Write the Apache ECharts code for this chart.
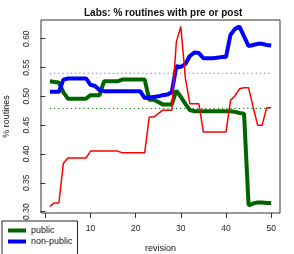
<!DOCTYPE html>
<html>
<head>
<meta charset="utf-8">
<script src="https://cdn.jsdelivr.net/npm/echarts@6/dist/echarts.min.js"></script>
<style>
html,body{margin:0;padding:0;background:#fff;}
#chart{width:294px;height:254px;}
</style>
</head>
<body>
<div id="chart"></div>
<script>
// revisions 1..50
var revisions = [1,2,3,4,5,6,7,8,9,10,11,12,13,14,15,16,17,18,19,20,21,22,23,24,25,26,27,28,29,30,31,32,33,34,35,36,37,38,39,40,41,42,43,44,45,46,47,48,49,50];
var publicVals = [0.526,0.525,0.524,0.507,0.496,0.496,0.496,0.496,0.496,0.502,
                  0.502,0.502,0.526,0.526,0.526,0.526,0.529,0.529,0.529,0.529,
                  0.529,0.529,0.494,0.494,0.490,0.486,0.486,0.486,0.510,0.499,
                  0.487,0.476,0.474,0.474,0.474,0.474,0.474,0.474,0.474,0.474,
                  0.474,0.473,0.471,0.470,0.311,0.314,0.316,0.316,0.315,0.315];
var nonPublicVals = [0.508,0.508,0.508,0.529,0.531,0.531,0.531,0.531,0.531,0.520,
                     0.518,0.511,0.509,0.509,0.509,0.509,0.509,0.509,0.509,0.509,
                     0.509,0.497,0.498,0.499,0.500,0.502,0.503,0.507,0.552,0.551,
                     0.556,0.570,0.576,0.575,0.566,0.566,0.566,0.567,0.568,0.568,
                     0.607,0.617,0.621,0.604,0.587,0.589,0.591,0.591,0.589,0.588];
var allVals = [0.309,0.315,0.315,0.384,0.393,0.393,0.393,0.393,0.393,0.405,
               0.405,0.405,0.405,0.405,0.405,0.405,0.402,0.402,0.402,0.402,
               0.402,0.402,0.464,0.464,0.470,0.476,0.476,0.476,0.594,0.621,
               0.532,0.487,0.487,0.487,0.438,0.438,0.438,0.438,0.438,0.438,
               0.493,0.501,0.513,0.515,0.515,0.482,0.450,0.450,0.480,0.480];
var publicMean = 0.479;
var nonPublicMean = 0.540;
var xTicks = [0,10,20,30,40,50];
var yTicks = [0.30,0.35,0.40,0.45,0.50,0.55,0.60];

function pairs(xs, ys){ return xs.map(function(x,i){ return [x, ys[i]]; }); }
var firstRev = revisions[0], lastRev = revisions[revisions.length-1];

var FONT = 'Liberation Sans, Arial, Helvetica, sans-serif';
var chart = echarts.init(document.getElementById('chart'), null, {renderer:'canvas'});
chart.setOption({
  animation: false,
  backgroundColor: '#ffffff',
  title: {
    text: 'Labs: % routines with pre or post',
    left: 79, top: 3,
    textStyle: {fontFamily: FONT, fontSize: 10, fontWeight: 'bold', color: '#111'}
  },
  legend: {
    orient: 'vertical', left: 2, top: 221, height: 60,
    padding: [5, 5, 14, 6],
    itemGap: 2, itemWidth: 18, itemHeight: 4,
    borderColor: '#222', borderWidth: 1, backgroundColor: '#fff',
    textStyle: {fontFamily: FONT, fontSize: 9, color: '#111'},
    data: [{name:'public', icon:'rect'}, {name:'non-public', icon:'rect'}]
  },
  grid: {left: 41, right: 14, top: 20, bottom: 41, show: true, borderColor: '#333', borderWidth: 1,
         backgroundColor: 'transparent', containLabel: false, outerBoundsMode: 'none'},
  xAxis: {
    type: 'value', min: -0.96, max: 51.96,
    name: 'revision', nameLocation: 'middle', nameGap: 31,
    nameTextStyle: {fontFamily: FONT, fontSize: 9, color: '#111'},
    axisLine: {show: false},
    axisTick: {show: true, length: 5, customValues: xTicks, lineStyle: {color: '#333'}},
    axisLabel: {show: true, customValues: xTicks, margin: 11, fontFamily: FONT, fontSize: 8.5, color: '#222'},
    splitLine: {show: false}
  },
  yAxis: {
    type: 'value', min: 0.2976, max: 0.6324,
    name: '% routines', nameLocation: 'middle', nameGap: 30, nameRotate: 90,
    nameTextStyle: {fontFamily: FONT, fontSize: 9, color: '#111'},
    axisLine: {show: false},
    axisTick: {show: true, length: 5, customValues: yTicks, lineStyle: {color: '#333'}},
    axisLabel: {show: true, customValues: yTicks, rotate: 90, margin: 10, fontFamily: FONT, fontSize: 8.5, color: '#222',
      formatter: function(v){ return v.toFixed(2); }},
    splitLine: {show: false}
  },
  series: [
    {name: 'nonPublicMean', type: 'line', showSymbol: false, silent: true,
     data: [[firstRev, nonPublicMean], [lastRev, nonPublicMean]],
     lineStyle: {color: '#6666ff', width: 1, type: [1.2, 3]}, z: 1},
    {name: 'publicMean', type: 'line', showSymbol: false, silent: true,
     data: [[firstRev, publicMean], [lastRev, publicMean]],
     lineStyle: {color: '#006400', width: 1, type: [1.2, 3]}, z: 1},
    {name: 'public', type: 'line', showSymbol: false, data: pairs(revisions, publicVals),
     itemStyle: {color: '#006400'}, lineStyle: {color: '#006400', width: 4}, z: 2},
    {name: 'non-public', type: 'line', showSymbol: false, data: pairs(revisions, nonPublicVals),
     itemStyle: {color: '#0000ff'}, lineStyle: {color: '#0000ff', width: 4}, z: 3},
    {name: 'all', type: 'line', showSymbol: false, data: pairs(revisions, allVals),
     itemStyle: {color: '#ff0000'}, lineStyle: {color: '#ff0000', width: 1.5}, z: 4}
  ]
});
</script>
</body>
</html>
